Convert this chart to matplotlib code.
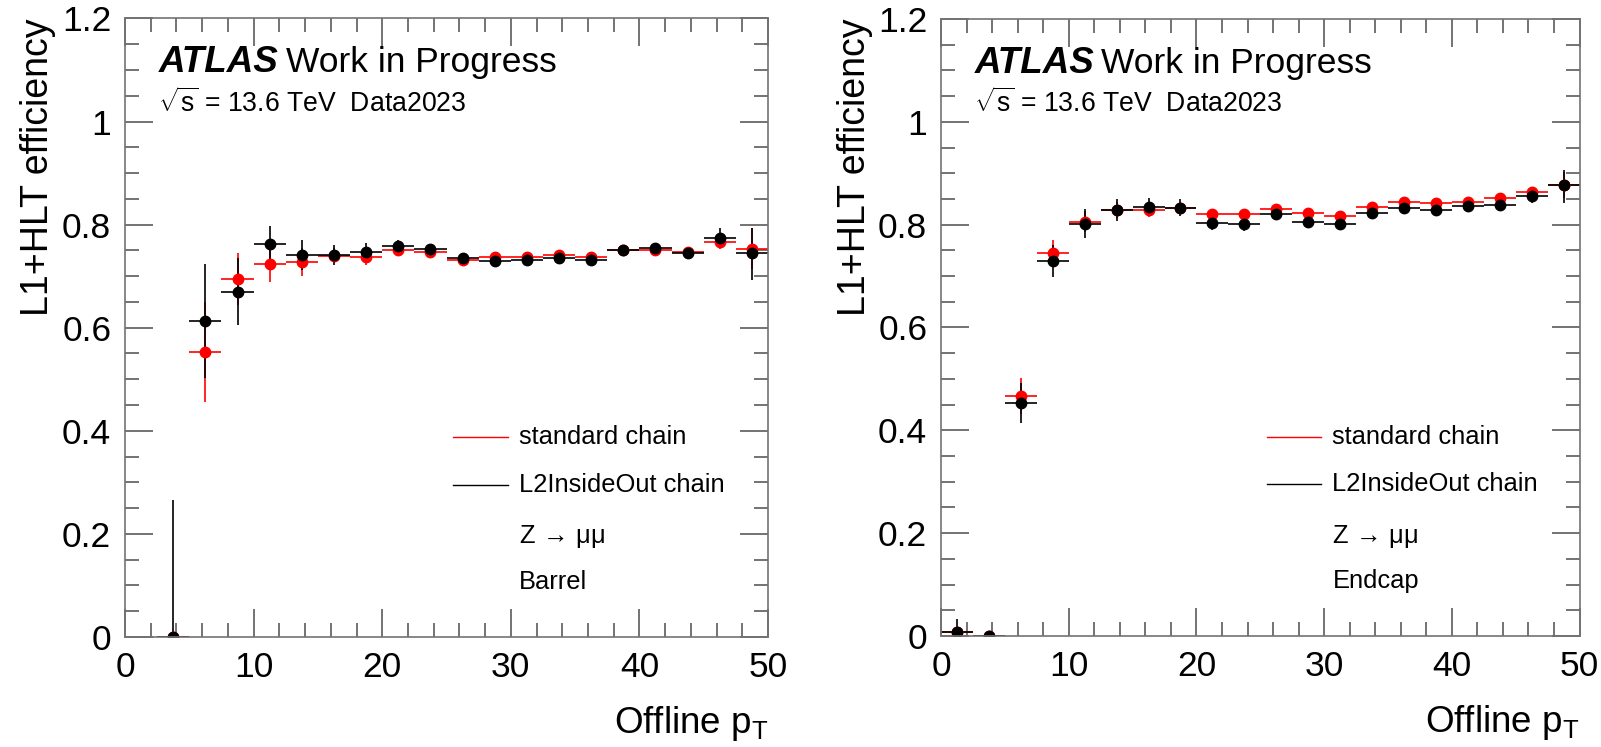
import matplotlib
matplotlib.use('agg')
import matplotlib.pyplot as plt
from matplotlib.ticker import MultipleLocator

plt.rcParams['font.family'] = ['Liberation Sans', 'DejaVu Sans']
plt.rcParams['mathtext.fontset'] = 'custom'
plt.rcParams['mathtext.rm'] = 'Liberation Sans'
plt.rcParams['mathtext.it'] = 'Liberation Sans:italic'

# Barrel (left panel), bins of 2.5 GeV
barrel_pt = [3.75, 6.25, 8.75, 11.25, 13.75, 16.25, 18.75, 21.25, 23.75, 26.25,
             28.75, 31.25, 33.75, 36.25, 38.75, 41.25, 43.75, 46.25, 48.75]
barrel_std = [0.0, 0.553, 0.694, 0.723, 0.727, 0.740, 0.737, 0.751, 0.747, 0.731,
              0.737, 0.738, 0.741, 0.738, 0.751, 0.751, 0.747, 0.767, 0.753]
barrel_std_err = [0.0, 0.097, 0.050, 0.035, 0.027, 0.015, 0.015, 0.010, 0.010, 0.008,
                  0.008, 0.008, 0.008, 0.008, 0.008, 0.008, 0.008, 0.015, 0.040]
barrel_io = [0.0, 0.613, 0.670, 0.762, 0.741, 0.741, 0.746, 0.759, 0.753, 0.735,
             0.729, 0.732, 0.736, 0.732, 0.751, 0.755, 0.744, 0.775, 0.745]
barrel_io_err_lo = [0.0, 0.110, 0.065, 0.036, 0.030, 0.020, 0.018, 0.012, 0.010, 0.008,
                    0.008, 0.008, 0.008, 0.008, 0.008, 0.008, 0.008, 0.018, 0.052]
barrel_io_err_hi = [0.265, 0.110, 0.065, 0.036, 0.030, 0.020, 0.018, 0.012, 0.010, 0.008,
                    0.008, 0.008, 0.008, 0.008, 0.008, 0.008, 0.008, 0.018, 0.048]

# Endcap (right panel)
endcap_pt = [1.25, 3.75, 6.25, 8.75, 11.25, 13.75, 16.25, 18.75, 21.25, 23.75,
             26.25, 28.75, 31.25, 33.75, 36.25, 38.75, 41.25, 43.75, 46.25, 48.75]
endcap_std = [0.008, 0.0, 0.467, 0.745, 0.806, 0.829, 0.829, 0.833, 0.821, 0.820,
              0.831, 0.823, 0.817, 0.834, 0.844, 0.842, 0.844, 0.851, 0.864, 0.877]
endcap_std_err = [0.0, 0.0, 0.035, 0.026, 0.020, 0.016, 0.014, 0.012, 0.010, 0.009,
                  0.008, 0.008, 0.008, 0.008, 0.007, 0.007, 0.007, 0.008, 0.010, 0.025]
endcap_io = [0.008, 0.0, 0.454, 0.730, 0.802, 0.829, 0.834, 0.833, 0.804, 0.801,
             0.820, 0.805, 0.801, 0.823, 0.833, 0.829, 0.836, 0.838, 0.855, 0.877]
endcap_io_err_lo = [0.008, 0.0, 0.039, 0.031, 0.028, 0.021, 0.018, 0.017, 0.015, 0.013,
                    0.010, 0.010, 0.010, 0.010, 0.009, 0.009, 0.009, 0.010, 0.012, 0.035]
endcap_io_err_hi = [0.025, 0.0, 0.039, 0.031, 0.028, 0.021, 0.018, 0.017, 0.015, 0.013,
                    0.010, 0.010, 0.010, 0.010, 0.009, 0.009, 0.009, 0.010, 0.012, 0.030]

half_bin = 1.25
legend_labels = ["standard chain", "L2InsideOut chain"]
region_labels = ["Barrel", "Endcap"]

fig = plt.figure(figsize=(16.01, 7.47), dpi=100)
ax1 = fig.add_axes([0.0781, 0.1473, 0.4016, 0.828])
ax2 = fig.add_axes([0.5878, 0.1486, 0.3988, 0.826])


def draw_panel(ax, pt, std, std_err, io, io_lo, io_hi, region):
    ax.errorbar(pt, std, xerr=half_bin, yerr=std_err, fmt='o', color='red',
                ms=7.5, elinewidth=1.2, capsize=0, label=legend_labels[0])
    ax.errorbar(pt, io, xerr=half_bin, yerr=[io_lo, io_hi], fmt='o', color='black',
                ms=7.5, elinewidth=1.2, capsize=0, label=legend_labels[1])
    ax.set_xlim(0, 50)
    ax.set_ylim(0, 1.2)
    ax.xaxis.set_major_locator(MultipleLocator(10))
    ax.xaxis.set_minor_locator(MultipleLocator(2))
    ax.yaxis.set_minor_locator(MultipleLocator(0.05))
    ax.set_yticks([0, 0.2, 0.4, 0.6, 0.8, 1.0, 1.2], ["0", "0.2", "0.4", "0.6", "0.8", "1", "1.2"])
    ax.tick_params(which='both', direction='in', top=True, right=True, labelsize=25.5,
                   color='0.3', width=1.1)
    ax.tick_params(which='major', length=20, pad=10)
    ax.tick_params(which='minor', length=10)
    for s in ax.spines.values():
        s.set_color('0.45')
        s.set_linewidth(1.2)

    ax.text(-0.135, 1.0, "L1+HLT efficiency", rotation=90, ha='center', va='top',
            fontsize=27, transform=ax.transAxes)
    ax.text(1.0, -0.155, r"Offline p$_\mathrm{T}$", ha='right', va='baseline',
            fontsize=26.5, transform=ax.transAxes)

    ax.text(0.052, 0.928, "ATLAS", fontsize=26.5, fontweight='bold', style='italic',
            ha='left', va='center', transform=ax.transAxes)
    ax.text(0.251, 0.928, "Work in Progress", fontsize=25.5, ha='left', va='center',
            transform=ax.transAxes)
    ax.text(0.052, 0.863, r"$\sqrt{\mathrm{s}}$ = 13.6 TeV  Data2023", fontsize=19.2,
            ha='left', va='center', transform=ax.transAxes)

    # legend drawn by hand, ROOT style
    rows = [0.323, 0.246, 0.162, 0.089]
    ax.plot([0.51, 0.595], [rows[0], rows[0]], color='red', lw=1.0, transform=ax.transAxes)
    ax.plot([0.51, 0.595], [rows[1], rows[1]], color='black', lw=1.0, transform=ax.transAxes)
    texts = legend_labels + [r"Z$\,\rightarrow\,$μμ", region]
    for r, t in zip(rows, texts):
        ax.text(0.613, r, t, fontsize=18.4, ha='left', va='center', transform=ax.transAxes)


draw_panel(ax1, barrel_pt, barrel_std, barrel_std_err, barrel_io,
           barrel_io_err_lo, barrel_io_err_hi, region_labels[0])
draw_panel(ax2, endcap_pt, endcap_std, endcap_std_err, endcap_io,
           endcap_io_err_lo, endcap_io_err_hi, region_labels[1])

fig.savefig("out.png", dpi=100)
